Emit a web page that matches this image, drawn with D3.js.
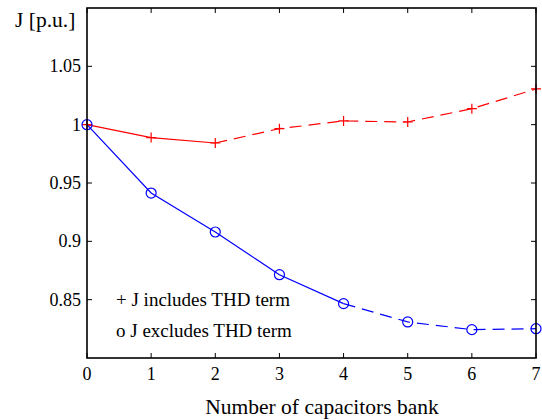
<!DOCTYPE html>
<html><head><meta charset="utf-8">
<script src="https://cdn.jsdelivr.net/npm/d3@7"></script>
<style>body{margin:0;background:#fff}svg{display:block}</style>
</head><body>
<svg id="c" width="542" height="420"></svg>
<script>
const capacitors = [0,1,2,3,4,5,6,7];
const withTHD = [1.0, 0.9889, 0.9843, 0.9966, 1.0032, 1.0023, 1.0137, 1.0306];
const withoutTHD = [1.0, 0.9414, 0.9080, 0.8714, 0.8466, 0.8309, 0.8243, 0.8251];
const xTicks = [0,1,2,3,4,5,6,7];
const yTicks = [0.85,0.9,0.95,1,1.05];
const yTickLabels = ["0.85","0.9","0.95","1","1.05"];
const legendLabels = ["+ J includes THD term","o J excludes THD term"];
const solidUntilTHD = 2, solidUntilNoTHD = 4;

const svg = d3.select("#c");
const L=87,R=536,T=8,B=358;
const x = d3.scaleLinear().domain([0,7]).range([L,R]);
const y = d3.scaleLinear().domain([0.8,1.1]).range([B,T]);
function txt(sel){ return sel.append("text").style("font-family","'Liberation Serif', serif").attr("fill","#000"); }

const tl=5;
const g = svg.append("g");
xTicks.forEach(v=>{
  g.append("line").attr("x1",x(v)).attr("x2",x(v)).attr("y1",B).attr("y2",B-tl).attr("stroke","#000");
  g.append("line").attr("x1",x(v)).attr("x2",x(v)).attr("y1",T).attr("y2",T+tl).attr("stroke","#000");
  txt(g).attr("x",x(v)).attr("y",B+22).attr("text-anchor","middle").attr("font-size",18).text(v);
});
yTicks.forEach((v,i)=>{
  g.append("line").attr("x1",L).attr("x2",L+tl).attr("y1",y(v)).attr("y2",y(v)).attr("stroke","#000");
  g.append("line").attr("x1",R).attr("x2",R-tl).attr("y1",y(v)).attr("y2",y(v)).attr("stroke","#000");
  txt(g).attr("x",L-6).attr("y",y(v)+6).attr("text-anchor","end").attr("font-size",18).text(yTickLabels[i]);
});

const line = d3.line().x(d=>x(d[0])).y(d=>y(d[1]));
function series(vals, cut, color){
  const pts = capacitors.map((c,i)=>[c,vals[i]]);
  svg.append("path").attr("d",line(pts.slice(0,cut+1))).attr("fill","none").attr("stroke",color).attr("stroke-width",1.2);
  svg.append("path").attr("d",line(pts.slice(cut))).attr("fill","none").attr("stroke",color).attr("stroke-width",1.2).attr("stroke-dasharray","12,7");
  return pts;
}
const p1 = series(withTHD, solidUntilTHD, "#ff0000");
const p2 = series(withoutTHD, solidUntilNoTHD, "#0000ff");
p1.forEach(d=>{
  const cx=x(d[0]), cy=y(d[1]), s=5;
  svg.append("path").attr("d",`M${cx-s},${cy}H${cx+s}M${cx},${cy-s}V${cy+s}`).attr("stroke","#ff0000").attr("stroke-width",1.2);
});
p2.forEach(d=>{
  svg.append("circle").attr("cx",x(d[0])).attr("cy",y(d[1])).attr("r",5).attr("fill","none").attr("stroke","#0000ff").attr("stroke-width",1.2);
});

svg.append("rect").attr("x",L).attr("y",T).attr("width",R-L).attr("height",B-T).attr("fill","none").attr("stroke","#000").attr("stroke-width",1.6);

txt(svg).attr("x",116).attr("y",306).attr("font-size",19).text(legendLabels[0]);
txt(svg).attr("x",116).attr("y",337).attr("font-size",19).text(legendLabels[1]);

txt(svg).attr("x",15).attr("y",27).attr("font-size",21.5).text("J [p.u.]");
txt(svg).attr("x",322).attr("y",414).attr("text-anchor","middle").attr("font-size",21.5).text("Number of capacitors bank");
</script>
</body></html>
